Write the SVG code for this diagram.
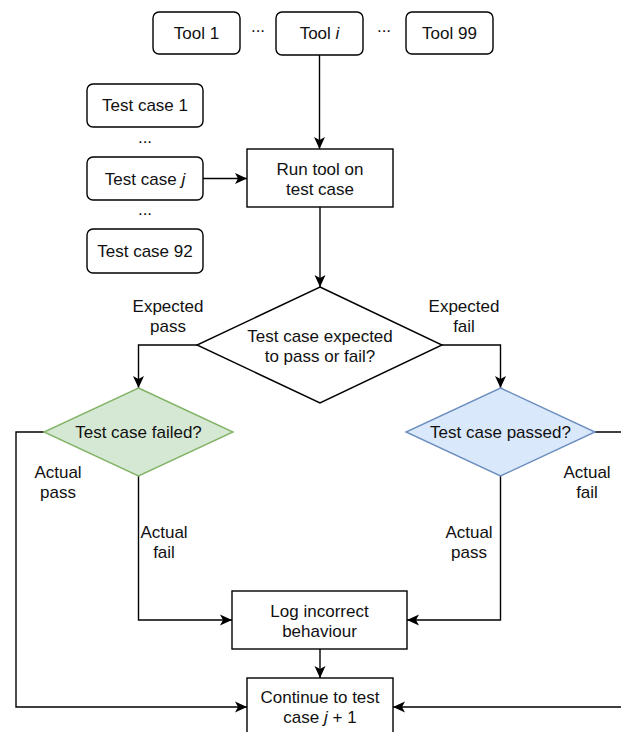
<svg xmlns="http://www.w3.org/2000/svg" width="621" height="732" viewBox="0 0 621 732">
<style>
  .box { fill: #ffffff; stroke: #000000; stroke-width: 1.4; }
  .t { font-family: "Liberation Sans", Arial, sans-serif; font-size: 17px; fill: #111111; text-anchor: middle; }
  .edge { fill: none; stroke: #000000; stroke-width: 1.4; marker-end: url(#arr); }
  .green { fill: #d5e8d4; stroke: #82b366; stroke-width: 1.4; }
  .blue { fill: #dae8fc; stroke: #6c8ebf; stroke-width: 1.4; }
</style>
<defs>
  <marker id="arr" markerUnits="userSpaceOnUse" markerWidth="14" markerHeight="12" refX="12" refY="6" orient="auto" viewBox="0 0 14 12">
    <path d="M0,0.5 L12,6 L0,11.5 L3,6 Z" fill="#000000"/>
  </marker>
</defs>
<rect width="621" height="732" fill="#ffffff"/>

<g id="connectors">
  <path class="edge" d="M319.5,55 V149"/>
  <path class="edge" d="M203,178.5 H247"/>
  <path class="edge" d="M320,207 V287"/>
  <path class="edge" d="M197,345 H138.5 V388"/>
  <path class="edge" d="M442,345 H500.5 V388"/>
  <path class="edge" d="M44,432 H16 V707 H247"/>
  <path class="edge" d="M138.5,476 V620 H232"/>
  <path class="edge" d="M500.5,476 V620 H407"/>
  <path class="edge" d="M595,432 H624 V707 H393"/>
  <path class="edge" d="M320,649 V678"/>
</g>

<g id="labels">
  <text class="t" x="168" y="312">Expected</text>
  <text class="t" x="168" y="332">pass</text>
  <text class="t" x="464" y="312">Expected</text>
  <text class="t" x="464" y="332">fail</text>
  <text class="t" x="58" y="478">Actual</text>
  <text class="t" x="58" y="498">pass</text>
  <text class="t" x="164" y="538">Actual</text>
  <text class="t" x="164" y="558">fail</text>
  <text class="t" x="587" y="478">Actual</text>
  <text class="t" x="587" y="498">fail</text>
  <text class="t" x="469" y="538">Actual</text>
  <text class="t" x="469" y="558">pass</text>
  <text class="t" x="258" y="32">...</text>
  <text class="t" x="384" y="32">...</text>
  <text class="t" x="145" y="143">...</text>
  <text class="t" x="145" y="215">...</text>
</g>

<g id="tool1">
  <rect class="box" x="153" y="12" width="87" height="42" rx="6"/>
  <text class="t" x="196.5" y="39">Tool 1</text>
</g>
<g id="tooli">
  <rect class="box" x="276" y="12" width="87" height="43" rx="6"/>
  <text class="t" x="319.5" y="39">Tool <tspan font-style="italic">i</tspan></text>
</g>
<g id="tool99">
  <rect class="box" x="406" y="12" width="87" height="42" rx="6"/>
  <text class="t" x="449.5" y="39">Tool 99</text>
</g>

<g id="testcase1">
  <rect class="box" x="87" y="84" width="116" height="43" rx="6"/>
  <text class="t" x="145" y="111">Test case 1</text>
</g>
<g id="testcasej">
  <rect class="box" x="87" y="157" width="116" height="43" rx="6"/>
  <text class="t" x="145" y="184.5">Test case <tspan font-style="italic">j</tspan></text>
</g>
<g id="testcase92">
  <rect class="box" x="87" y="229" width="116" height="44" rx="6"/>
  <text class="t" x="145" y="257">Test case 92</text>
</g>

<g id="runtool">
  <rect class="box" x="247" y="149" width="146" height="58"/>
  <text class="t" x="320" y="175">Run tool on</text>
  <text class="t" x="320" y="195">test case</text>
</g>

<g id="expected">
  <polygon class="box" points="320,287 442,345 320,403 197,345"/>
  <text class="t" x="320" y="342">Test case expected</text>
  <text class="t" x="320" y="362">to pass or fail?</text>
</g>

<g id="failed">
  <polygon class="green" points="138.5,388 233,432 138.5,476 44,432"/>
  <text class="t" x="138.5" y="438">Test case failed?</text>
</g>

<g id="passed">
  <polygon class="blue" points="500.5,388 595,432 500.5,476 406,432"/>
  <text class="t" x="500.5" y="438">Test case passed?</text>
</g>

<g id="log">
  <rect class="box" x="232" y="591" width="175" height="58"/>
  <text class="t" x="319.5" y="617">Log incorrect</text>
  <text class="t" x="319.5" y="637">behaviour</text>
</g>

<g id="continue">
  <rect class="box" x="247" y="678" width="146" height="62"/>
  <text class="t" x="320" y="703">Continue to test</text>
  <text class="t" x="320" y="723">case <tspan font-style="italic">j</tspan> + 1</text>
</g>
</svg>
